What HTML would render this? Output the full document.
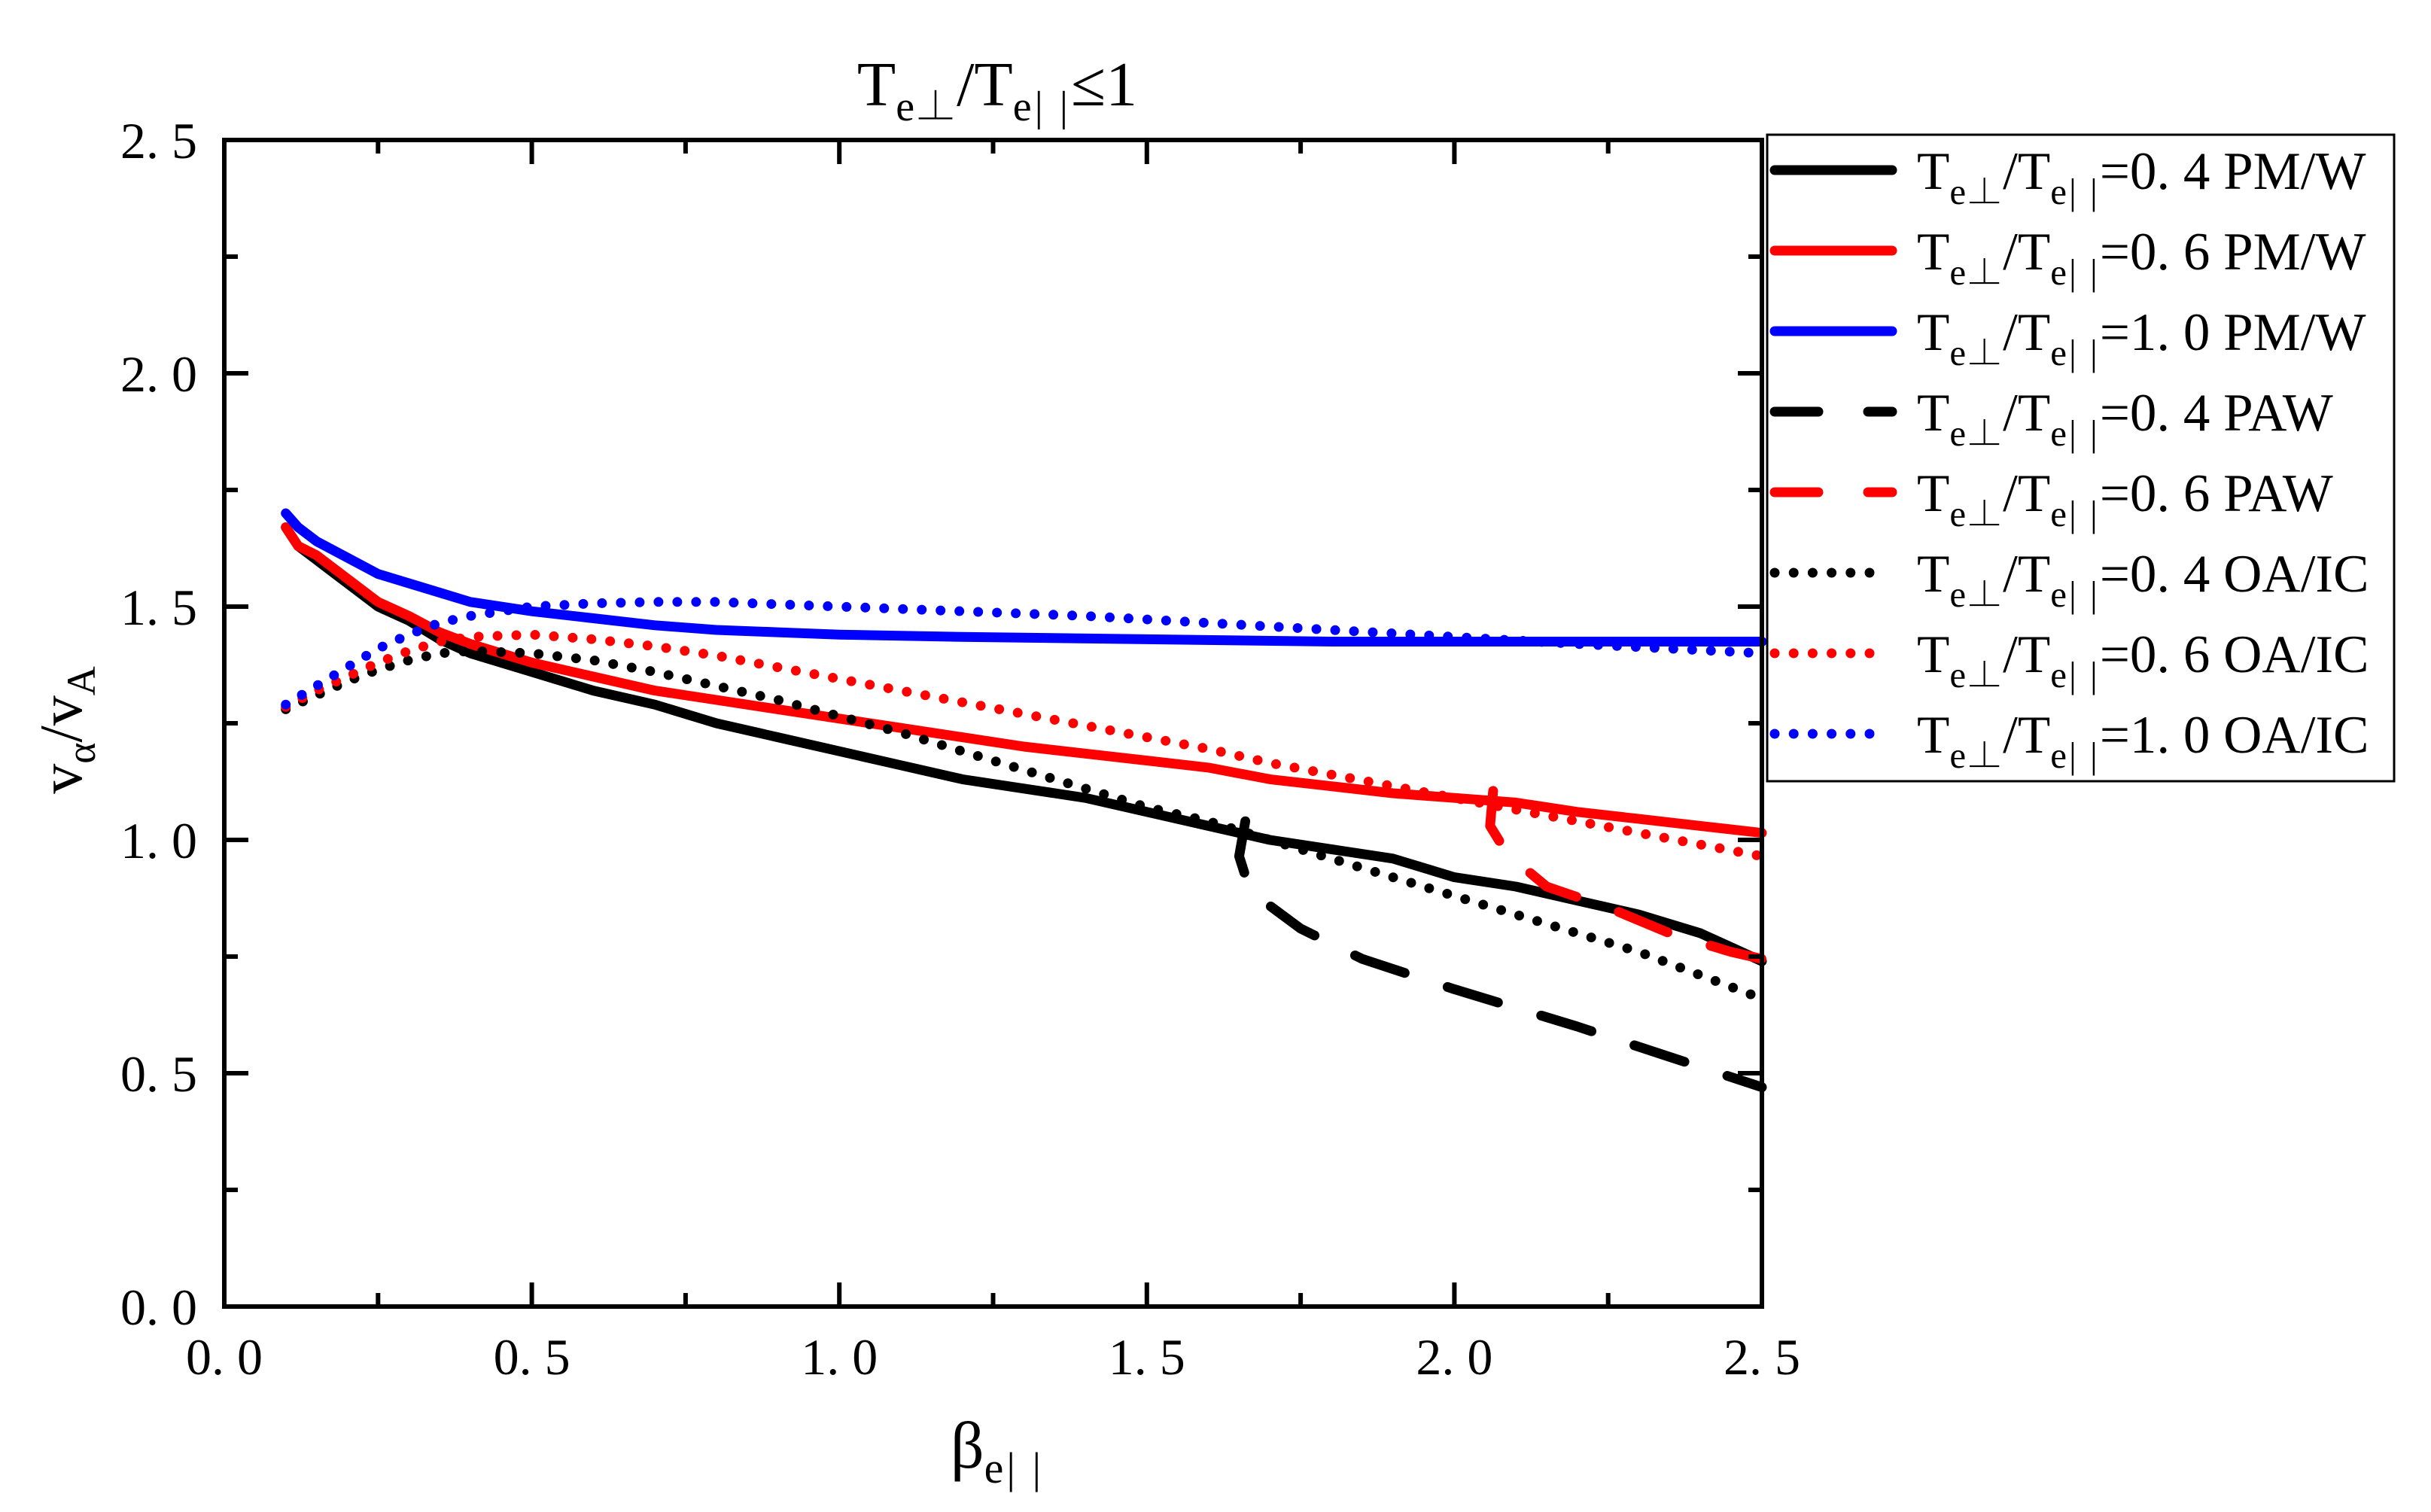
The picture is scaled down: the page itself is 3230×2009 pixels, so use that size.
<!DOCTYPE html>
<html><head><meta charset="utf-8"><style>
html,body{margin:0;padding:0;background:#fff;}
svg{display:block;font-family:"Liberation Serif","Noto Serif CJK SC",serif;}
</style></head><body>
<svg id="chart" width="3230" height="2009" viewBox="0 0 3230 2009" xmlns="http://www.w3.org/2000/svg">
<g id="plot"></g>
<g id="axes"></g>
<g id="legend"></g>
</svg>
<script>
const xTicks = [0, 0.5, 1.0, 1.5, 2.0, 2.5];
const yTicks = [0, 0.5, 1.0, 1.5, 2.0, 2.5];
const xTickLabels = ["0. 0","0. 5","1. 0","1. 5","2. 0","2. 5"];
const yTickLabels = ["0. 0","0. 5","1. 0","1. 5","2. 0","2. 5"];

const pmw04X = [0.1,0.12,0.15,0.2,0.25,0.3,0.35,0.4,0.5,0.6,0.7,0.8,0.9,1.0,1.1,1.2,1.3,1.4,1.5,1.6,1.7,1.8,1.9,2.0,2.1,2.2,2.3,2.4,2.5];
const pmw04Y = [1.67,1.63,1.60,1.55,1.50,1.47,1.43,1.40,1.36,1.32,1.29,1.25,1.22,1.19,1.16,1.13,1.11,1.09,1.06,1.03,1.00,0.98,0.96,0.92,0.90,0.87,0.84,0.80,0.74];
const pmw06X = [0.1,0.12,0.15,0.2,0.25,0.3,0.35,0.4,0.5,0.6,0.7,0.8,0.9,1.0,1.1,1.2,1.3,1.4,1.5,1.6,1.7,1.8,1.9,2.0,2.1,2.2,2.3,2.4,2.5];
const pmw06Y = [1.67,1.63,1.61,1.56,1.51,1.48,1.445,1.42,1.38,1.35,1.32,1.30,1.28,1.26,1.24,1.22,1.20,1.185,1.17,1.155,1.13,1.115,1.10,1.09,1.08,1.06,1.045,1.03,1.015];
const pmw10X = [0.1,0.12,0.15,0.2,0.25,0.3,0.35,0.4,0.5,0.6,0.7,0.8,0.9,1.0,1.2,1.5,1.8,2.1,2.5];
const pmw10Y = [1.70,1.67,1.64,1.605,1.57,1.55,1.53,1.51,1.49,1.475,1.46,1.45,1.445,1.44,1.435,1.43,1.425,1.425,1.425];
const paw04X = [1.66,1.65,1.668,1.75,1.85,2.0,2.2,2.35,2.5];
const paw04Y = [1.04,0.965,0.89,0.81,0.745,0.68,0.60,0.535,0.47];
const paw06X = [2.063,2.058,2.086,2.15,2.25,2.35,2.45,2.5];
const paw06Y = [1.105,1.03,0.97,0.90,0.855,0.80,0.76,0.745];
const oa04X = [0.1,0.15,0.2,0.25,0.3,0.35,0.4,0.5,0.6,0.7,0.8,0.9,1.0,1.1,1.2,1.3,1.4,1.5,1.6,1.7,1.8,1.9,2.0,2.1,2.2,2.3,2.4,2.5];
const oa04Y = [1.28,1.31,1.34,1.365,1.385,1.40,1.405,1.40,1.385,1.36,1.33,1.30,1.265,1.23,1.19,1.15,1.11,1.07,1.04,1.00,0.96,0.92,0.88,0.84,0.80,0.76,0.71,0.66];
const oa06X = [0.1,0.15,0.2,0.25,0.3,0.35,0.4,0.5,0.6,0.7,0.8,0.9,1.0,1.1,1.2,1.3,1.4,1.5,1.6,1.7,1.8,1.9,2.0,2.1,2.2,2.3,2.4,2.5];
const oa06Y = [1.285,1.32,1.35,1.38,1.405,1.425,1.435,1.44,1.43,1.415,1.395,1.37,1.345,1.32,1.295,1.27,1.245,1.22,1.195,1.165,1.14,1.115,1.09,1.065,1.04,1.015,0.99,0.965];
const oa10X = [0.1,0.15,0.2,0.25,0.3,0.35,0.4,0.5,0.6,0.7,0.8,0.9,1.0,1.2,1.4,1.6,1.8,2.0,2.2,2.5];
const oa10Y = [1.29,1.33,1.37,1.41,1.44,1.465,1.48,1.50,1.507,1.51,1.51,1.505,1.50,1.49,1.48,1.465,1.45,1.435,1.42,1.40];

const NS = "http://www.w3.org/2000/svg";
const L = 298, R = 2341, T = 186, B = 1736;
const xs = v => L + (v - 0) / 2.5 * (R - L);
const ys = v => B - (v - 0) / 2.5 * (B - T);
const plot = document.getElementById('plot');
const axes = document.getElementById('axes');
const legend = document.getElementById('legend');
function mk(tag, attrs, parent) {
  const e = document.createElementNS(NS, tag);
  for (const k in attrs) e.setAttribute(k, attrs[k]);
  parent.appendChild(e);
  return e;
}
const styles = {
  solid: {w: 13, dash: null},
  dash: {w: 13, dash: "70 60"},
  dot: {w: 13, dash: "0 25"}
};
const series = [
  [pmw04X, pmw04Y, '#000', 'solid', 'pmw-0.4-line'],
  [pmw06X, pmw06Y, '#f00', 'solid', 'pmw-0.6-line'],
  [pmw10X, pmw10Y, '#00f', 'solid', 'pmw-1.0-line'],
  [paw04X, paw04Y, '#000', 'dash', 'paw-0.4-line'],
  [paw06X, paw06Y, '#f00', 'dash', 'paw-0.6-line'],
  [oa04X, oa04Y, '#000', 'dot', 'oaic-0.4-line'],
  [oa06X, oa06Y, '#f00', 'dot', 'oaic-0.6-line'],
  [oa10X, oa10Y, '#00f', 'dot', 'oaic-1.0-line']
];
series.forEach(s => {
  const d = s[0].map((x, i) => (i ? 'L' : 'M') + xs(x).toFixed(1) + ' ' + ys(s[1][i]).toFixed(1)).join(' ');
  const st = styles[s[3]];
  const p = mk('path', {d: d, fill: 'none', stroke: s[2], 'stroke-width': st.w, 'stroke-linecap': 'round', 'stroke-linejoin': 'round'}, plot);
  if (st.dash) p.setAttribute('stroke-dasharray', st.dash);
  
  
});

const fr = mk('rect', {x: L, y: T, width: R - L, height: B - T, fill: 'none', stroke: '#000', 'stroke-width': 6}, axes);


for (let i = 0; i <= 10; i++) {
  const v = i * 0.25, major = i % 2 === 0, len = major ? 32 : 18;
  const X = xs(v), Y = ys(v);
  const t1 = mk('path', {d: `M${X} ${B} V${B - len} M${X} ${T} V${T + len} M${L} ${Y} H${L + len} M${R} ${Y} H${R - len}`, stroke: '#000', 'stroke-width': 6}, axes);
  
  
}
xTicks.forEach((v, i) => {
  const t = mk('text', {x: xs(v), y: 1826, 'font-size': 68, 'text-anchor': 'middle'}, axes);
  t.textContent = xTickLabels[i];
  
  
});
yTicks.forEach((v, i) => {
  const t = mk('text', {x: 262, y: ys(v) + 24, 'font-size': 68, 'text-anchor': 'end'}, axes);
  t.textContent = yTickLabels[i];
  
  
});

const lb = mk('rect', {x: 2348, y: 179, width: 833, height: 859, fill: '#fff', stroke: '#000', 'stroke-width': 3}, legend);


const legLabels = [["0. 4","PM/W"],["0. 6","PM/W"],["1. 0","PM/W"],["0. 4","PAW"],["0. 6","PAW"],["0. 4","OA/IC"],["0. 6","OA/IC"],["1. 0","OA/IC"]];
series.forEach((s, i) => {
  const y = 226 + i * 107;
  const st = styles[s[3]];
  const xe = s[3] === 'dot' ? 2484 : 2514;
  const p = mk('path', {d: `M2358 ${y} H${xe}`, stroke: s[2], 'stroke-width': st.w, 'stroke-linecap': 'round'}, legend);
  if (s[3] === 'dash') p.setAttribute('stroke-dasharray', '58 66');
  if (s[3] === 'dot') p.setAttribute('stroke-dasharray', '0 25.2');
  
  
  const t = mk('text', {x: 2547, y: y + 25, 'font-size': 71}, legend);
  t.innerHTML = `T<tspan font-size="49" dy="20">e⊥</tspan><tspan dy="-20">/T</tspan><tspan font-size="49" dy="20" letter-spacing="3">e| |</tspan><tspan dy="-20">=${legLabels[i][0]} ${legLabels[i][1]}</tspan>`;
  
  
});

const ti = mk('text', {x: 1325, y: 140, 'font-size': 84, 'text-anchor': 'middle'}, axes);
ti.innerHTML = 'T<tspan font-size="56" dy="20">e⊥</tspan><tspan dy="-20">/T</tspan><tspan font-size="56" dy="20" letter-spacing="4">e| |</tspan><tspan dy="-20">≤1</tspan>';


const xl = mk('text', {x: 1325, y: 1950, 'font-size': 88, 'text-anchor': 'middle'}, axes);
xl.innerHTML = 'β<tspan font-size="58" dy="20" letter-spacing="4">e| |</tspan>';


const yl = mk('text', {x: 0, y: 0, 'font-size': 80, 'text-anchor': 'middle', transform: 'translate(108 970) rotate(-90)'}, axes);
yl.innerHTML = 'v<tspan font-size="54" dy="18">α</tspan><tspan dy="-18">/v</tspan><tspan font-size="54" dy="18">A</tspan>';


</script>
</body></html>
